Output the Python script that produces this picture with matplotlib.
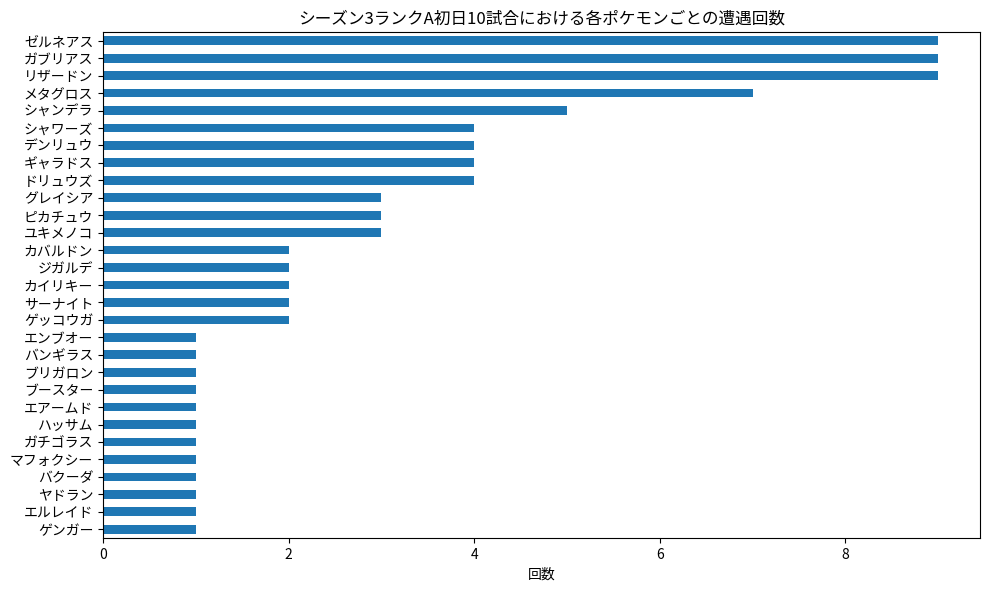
import matplotlib
matplotlib.use("Agg")
import matplotlib.pyplot as plt
import numpy as np

plt.rcParams['font.family'] = ['Noto Sans CJK JP', 'DejaVu Sans']

names = ['ゼルネアス', 'ガブリアス', 'リザードン', 'メタグロス', 'シャンデラ',
         'シャワーズ', 'デンリュウ', 'ギャラドス', 'ドリュウズ', 'グレイシア',
         'ピカチュウ', 'ユキメノコ', 'カバルドン', 'ジガルデ', 'カイリキー',
         'サーナイト', 'ゲッコウガ', 'エンブオー', 'バンギラス', 'ブリガロン',
         'ブースター', 'エアームド', 'ハッサム', 'ガチゴラス', 'マフォクシー',
         'バクーダ', 'ヤドラン', 'エルレイド', 'ゲンガー']
counts = [9, 9, 9, 7, 5,
          4, 4, 4, 4, 3,
          3, 3, 2, 2, 2,
          2, 2, 1, 1, 1,
          1, 1, 1, 1, 1,
          1, 1, 1, 1]

fig, ax = plt.subplots(figsize=(9.89, 5.9), dpi=100)
y = np.arange(len(names))
ax.barh(y, counts, height=0.5, color='#1f77b4')
ax.set_yticks(y)
ax.set_yticklabels(names)
ax.set_ylim(len(names) - 0.5, -0.5)
ax.set_title('シーズン3ランクA初日10試合における各ポケモンごとの遭遇回数')
ax.set_xlabel('回数')
fig.subplots_adjust(left=103 / 989, right=980 / 989, top=1 - 32 / 590, bottom=1 - 538 / 590)
fig.savefig('out.png', dpi=100)
